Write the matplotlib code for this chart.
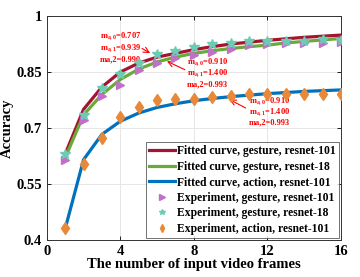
import numpy as np
import matplotlib
matplotlib.use('Agg')
import matplotlib.pyplot as plt

plt.rcParams['font.family'] = ['Liberation Serif', 'DejaVu Serif']
plt.rcParams['font.weight'] = 'bold'
plt.rcParams['mathtext.fontset'] = 'custom'
plt.rcParams['mathtext.rm'] = 'Liberation Serif:bold'
plt.rcParams['mathtext.bf'] = 'Liberation Serif:bold'
plt.rcParams['mathtext.default'] = 'bf'

# numero de frames
frames = list(range(1, 17))

# curvas ajustadas
fit_ges101 = [0.63, 0.75, 0.81, 0.85, 0.874, 0.89, 0.90, 0.91, 0.918, 0.925, 0.93, 0.935, 0.939, 0.943, 0.946, 0.949]
fit_ges18 = [0.62, 0.735, 0.79, 0.83, 0.858, 0.877, 0.89, 0.90, 0.907, 0.913, 0.918, 0.922, 0.928, 0.932, 0.936, 0.940]
fit_act101 = [0.43, 0.615, 0.683, 0.718, 0.740, 0.755, 0.765, 0.773, 0.779, 0.784, 0.788, 0.792, 0.795, 0.798, 0.800, 0.802]

# experimentos
exp_ges101 = [0.614, 0.721, 0.786, 0.815, 0.855, 0.875, 0.887, 0.896, 0.904, 0.911, 0.922, 0.925, 0.927, 0.927, 0.929, 0.931]
exp_ges18 = [0.629, 0.735, 0.806, 0.846, 0.875, 0.898, 0.907, 0.918, 0.925, 0.929, 0.934, 0.934, 0.932, 0.934, 0.938, 0.936]
exp_act101 = [0.431, 0.603, 0.672, 0.730, 0.755, 0.775, 0.777, 0.779, 0.782, 0.786, 0.790, 0.790, 0.792, 0.791, 0.791, 0.792]

xticks = [0, 4, 8, 12, 16]
yticks = [0.4, 0.55, 0.7, 0.85, 1]
ytick_labels = ['0.4', '0.55', '0.7', '0.85', '1']

fig = plt.figure(figsize=(3.6, 2.77), dpi=100)
ax = fig.add_axes([0.130, 0.134, 0.817, 0.808])

ax.plot(frames, fit_ges101, color='#A2142F', lw=2.3, label='Fitted curve, gesture, resnet-101', zorder=3)
ax.plot(frames, fit_ges18, color='#6AAA3A', lw=2.3, label='Fitted curve, gesture, resnet-18', zorder=3)
ax.plot(frames, fit_act101, color='#0072BD', lw=2.3, label='Fitted curve, action, resnet-101', zorder=3)
ax.plot(frames, exp_ges101, ls='none', marker='>', ms=6, color='#C070C8', label='Experiment, gesture, resnet-101', zorder=4)
ax.plot(frames, exp_ges18, ls='none', marker='*', ms=7, color='#6CCBB4', label='Experiment, gesture, resnet-18', zorder=5)
ax.plot(frames, exp_act101, ls='none', marker='d', ms=6, color='#E8893A', label='Experiment, action, resnet-101', zorder=4)

ax.set_xlim(0, 16)
ax.set_ylim(0.4, 1)
ax.set_xticks(xticks)
ax.set_yticks(yticks)
ax.set_yticklabels(ytick_labels)
ax.tick_params(direction='in', top=True, right=True, labelsize=10.5, length=3, width=0.6)
ax.grid(color='#E6E6E6', lw=0.7)
ax.set_axisbelow(True)
for s in ax.spines.values():
    s.set_linewidth(0.7)
    s.set_color('#333333')
ax.set_xlabel('The number of input video frames', fontsize=10.5, fontweight='bold', labelpad=0)
ax.set_ylabel('Accuracy', fontsize=10.5, fontweight='bold', labelpad=2)

# anotaciones
anot = dict(color='red', fontsize=6.0, fontweight='bold', ha='left', va='center')
flecha = dict(arrowstyle='->', color='red', lw=0.8)
ax.text(2.9, 0.947, r'm$_{a,0}$=0.707', **anot)
ax.text(2.9, 0.915, r'm$_{a,1}$=0.939', **anot)
ax.text(2.9, 0.883, 'ma,2=0.990', **anot)
ax.annotate('', xy=(5.75, 0.897), xytext=(5.05, 0.917), arrowprops=flecha)

ax.text(7.6, 0.876, r'm$_{a,0}$=0.910', **anot)
ax.text(7.6, 0.847, r'm$_{a,1}$=1.400', **anot)
ax.text(7.6, 0.818, 'ma,2=0.993', **anot)
ax.annotate('', xy=(6.4, 0.882), xytext=(7.65, 0.853), arrowprops=flecha)

ax.text(11.0, 0.772, r'm$_{a,0}$=0.910', **anot)
ax.text(11.0, 0.743, r'm$_{a,1}$=1.400', **anot)
ax.text(11.0, 0.714, 'ma,2=0.993', **anot)
ax.annotate('', xy=(9.8, 0.780), xytext=(10.95, 0.750), arrowprops=flecha)

leg = ax.legend(loc='lower right', fontsize=8.4, frameon=True, fancybox=False,
                edgecolor='#333333', borderpad=0.25, labelspacing=0.3,
                handlelength=2.2, handletextpad=0.2, borderaxespad=0.2)
leg.get_frame().set_linewidth(0.6)
for h in leg.legend_handles[3:]:
    h.set_markersize(4)

plt.savefig('out.png', dpi=100)
